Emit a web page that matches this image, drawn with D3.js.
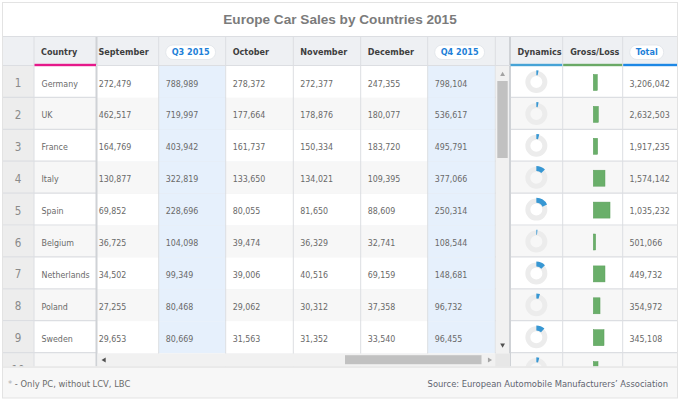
<!DOCTYPE html>
<html>
<head>
<meta charset="utf-8">
<script src="https://cdn.jsdelivr.net/npm/d3@7"></script>
<style>
  html, body { margin: 0; padding: 0; background: #fff; }
  svg { display: block; }
</style>
</head>
<body>
<div id="chart"></div>
<script>
const countries = ["Germany", "UK", "France", "Italy", "Spain", "Belgium", "Netherlands", "Poland", "Sweden", "Switzerland"];
const september = [272479, 462517, 164769, 130877, 69852, 36725, 34502, 27255, 29653];
const q3 = [788989, 719997, 403942, 322819, 228696, 104098, 99349, 80468, 80669];
const october = [278372, 177664, 161737, 133650, 80055, 39474, 39006, 29062, 31563];
const november = [272377, 178876, 150334, 134021, 81650, 36329, 40516, 30312, 31352];
const december = [247355, 180077, 183720, 109395, 88609, 32741, 69159, 37358, 33540];
const q4 = [798104, 536617, 495791, 377066, 250314, 108544, 148681, 96732, 96455];
const totals = [3206042, 2632503, 1917235, 1574142, 1035232, 501066, 449732, 354972, 345108, 323783];
const dynamics = [0.03, 0.03, 0.04, 0.13, 0.18, 0.015, 0.13, 0.05, 0.12, 0.04]; // share of the ring
const grossLoss = [5, 6.3, 5.4, 14.6, 20.9, 2.9, 14.6, 8.4, 13.4, 5.9];
const headerLabels = ["Country", "September", "Q3 2015", "October", "November", "December", "Q4 2015", "Dynamics", "Gross/Loss", "Total"];

const W = 680, H = 401;
const fmt = d3.format(",");
const bodyFont = "'DejaVu Sans Condensed', 'DejaVu Sans', sans-serif";

// column layout (left edge, right edge)
const cols = {
  num: [2, 34], country: [34, 96.5], sep: [96.5, 158.7], q3: [158.7, 225.7],
  oct: [225.7, 293.3], nov: [293.3, 360.7], dec: [360.7, 427.7], q4: [427.7, 495.3],
  vs: [495.3, 510], dyn: [510, 562.7], gross: [562.7, 622.7], total: [622.7, 678]
};
const headTop = 36, headBottom = 66, rowH = 31.9, hsTop = 353.5, footTop = 366.5, footBottom = 398;

const y = d3.scaleBand().domain(d3.range(countries.length))
  .range([headBottom, headBottom + rowH * countries.length]);

const svg = d3.select("#chart").append("svg")
  .attr("width", W).attr("height", H)
  .style("font-family", bodyFont);

svg.append("rect").attr("width", W).attr("height", H).attr("fill", "#fff");

const defs = svg.append("defs");
defs.append("clipPath").attr("id", "clipFixed")
  .append("rect").attr("x", 0).attr("y", headBottom).attr("width", W).attr("height", footTop - headBottom);
defs.append("clipPath").attr("id", "clipScroll")
  .append("rect").attr("x", cols.sep[0]).attr("y", headBottom)
  .attr("width", cols.q4[1] - cols.sep[0]).attr("height", hsTop - headBottom);

// title
svg.append("text")
  .attr("x", W / 2).attr("y", 24)
  .attr("text-anchor", "middle")
  .style("font-family", "'Liberation Sans', Arial, sans-serif")
  .style("font-size", "13.6px").style("font-weight", "bold")
  .style("fill", "#7b7b7b")
  .text("Europe Car Sales by Countries 2015");

// header background
svg.append("rect").attr("x", 2).attr("y", headTop).attr("width", 676).attr("height", headBottom - headTop)
  .attr("fill", "#eef0f3");

// body cells
const scrollCols = [
  { key: "sep", values: september, bg: null },
  { key: "q3", values: q3, bg: "#e6f0fc" },
  { key: "oct", values: october, bg: null },
  { key: "nov", values: november, bg: null },
  { key: "dec", values: december, bg: null },
  { key: "q4", values: q4, bg: "#e6f0fc" }
];
const rowBg = (i) => (i % 2 === 0 ? "#ffffff" : "#f7f7f7");

const fixedG = svg.append("g").attr("clip-path", "url(#clipFixed)");
const scrollG = svg.append("g").attr("clip-path", "url(#clipScroll)");

// fixed left / right column backgrounds
countries.forEach((c, i) => {
  fixedG.append("rect").attr("x", cols.num[0]).attr("y", y(i)).attr("width", cols.num[1] - cols.num[0])
    .attr("height", rowH).attr("fill", "#ededed");
  [cols.country, cols.dyn, cols.gross, cols.total].forEach((cc) => {
    fixedG.append("rect").attr("x", cc[0]).attr("y", y(i)).attr("width", cc[1] - cc[0])
      .attr("height", rowH).attr("fill", rowBg(i));
  });
});

// scroll area backgrounds
scrollCols.forEach((sc) => {
  sc.values.forEach((v, i) => {
    scrollG.append("rect").attr("x", cols[sc.key][0]).attr("y", y(i))
      .attr("width", cols[sc.key][1] - cols[sc.key][0]).attr("height", rowH)
      .attr("fill", sc.bg || rowBg(i));
  });
});

// grid lines
const gridColor = "#dcdee2";
countries.forEach((c, i) => {
  fixedG.append("line").attr("x1", 2).attr("x2", 678).attr("y1", y(i) + rowH - 0.5).attr("y2", y(i) + rowH - 0.5)
    .attr("stroke", gridColor).attr("stroke-width", 1.2);
});
[cols.country[0], cols.q3[0], cols.oct[0], cols.nov[0], cols.dec[0], cols.q4[0], cols.q4[1],
 cols.gross[0], cols.total[0]].forEach((x) => {
  svg.append("line").attr("x1", x).attr("x2", x).attr("y1", headTop).attr("y2", footTop)
    .attr("stroke", gridColor).attr("stroke-width", 1);
});
// fixed-column borders
[cols.sep[0], cols.dyn[0]].forEach((x) => {
  svg.append("line").attr("x1", x).attr("x2", x).attr("y1", headTop).attr("y2", footTop)
    .attr("stroke", "#cfd2d6").attr("stroke-width", 2);
});
svg.append("line").attr("x1", 2).attr("x2", 678).attr("y1", headTop + 0.5).attr("y2", headTop + 0.5)
  .attr("stroke", gridColor);
svg.append("line").attr("x1", 2).attr("x2", 678).attr("y1", headBottom - 0.5).attr("y2", headBottom - 0.5)
  .attr("stroke", gridColor);

// header labels
const headerKeys = ["country", "sep", "q3", "oct", "nov", "dec", "q4", "dyn", "gross", "total"];
const pills = ["q3", "q4", "total"];
headerKeys.forEach((k, j) => {
  const label = headerLabels[j];
  let x = cols[k][0] + 7;
  if (k === "sep") x = cols[k][0] + 2;
  if (k === "dyn") x = cols[k][0] + 7.5;
  if (k === "gross") x = cols[k][0] + 7.5;
  if (pills.includes(k)) {
    const t = svg.append("text").attr("x", x + 6).attr("y", 54.5)
      .style("font-size", "9px").style("font-weight", "bold").style("fill", "#1e7fd8").text(label);
    const w = t.node().getComputedTextLength();
    svg.insert("rect", () => t.node())
      .attr("x", x).attr("y", 45).attr("width", w + 12).attr("height", 14.5)
      .attr("rx", 7.25).attr("fill", "#fff").attr("stroke", "#dfe3e8").attr("stroke-width", 0.8);
  } else {
    svg.append("text").attr("x", x).attr("y", 54.5)
      .style("font-size", "9px").style("font-weight", "bold").style("fill", "#3e3e3e").text(label);
  }
});

// header underlines
const underlines = [
  { key: "country", color: "#e5198a" },
  { key: "dyn", color: "#46a3d6" },
  { key: "gross", color: "#6aa966" },
  { key: "total", color: "#1e88e5" }
];
underlines.forEach((u) => {
  svg.append("rect").attr("x", cols[u.key][0] + 0.5).attr("y", headBottom - 2.2)
    .attr("width", cols[u.key][1] - cols[u.key][0] - 1).attr("height", 2.4).attr("fill", u.color);
});

// fixed cells content
countries.forEach((c, i) => {
  const ty = y(i) + 20.5;
  fixedG.append("text").attr("x", (cols.num[0] + cols.num[1]) / 2).attr("y", ty + 0.5)
    .attr("text-anchor", "middle").style("font-size", "11.5px").style("fill", "#8a8a8a").text(i + 1);
  fixedG.append("text").attr("x", cols.country[0] + 7.5).attr("y", ty)
    .style("font-size", "8.8px").style("fill", "#6a6a6a").text(c);
  fixedG.append("text").attr("x", cols.total[0] + 6.8).attr("y", ty)
    .style("font-size", "8.8px").style("fill", "#6a6a6a").text(fmt(totals[i]));
});

// scroll area cell values
scrollCols.forEach((sc) => {
  sc.values.forEach((v, i) => {
    scrollG.append("text")
      .attr("x", cols[sc.key][0] + (sc.key === "sep" ? 2.2 : 7))
      .attr("y", y(i) + 20.5)
      .style("font-size", "8.8px").style("fill", "#6a6a6a").text(fmt(v));
  });
});

// dynamics donuts
const ringArc = d3.arc().innerRadius(6).outerRadius(11).startAngle(0).endAngle(2 * Math.PI);
const dynArc = d3.arc().innerRadius(6.8).outerRadius(11.8).startAngle(0);
const dynCx = (cols.dyn[0] + cols.dyn[1]) / 2;
dynamics.forEach((d, i) => {
  const g = fixedG.append("g").attr("transform", `translate(${dynCx},${y(i) + 16})`);
  g.append("path").attr("d", ringArc()).attr("fill", "#ececec");
  g.append("path").attr("d", dynArc({ endAngle: d * 2 * Math.PI })).attr("fill", "#3797d3");
});

// gross/loss bars
const barX = d3.scaleLinear().domain([0, 25]).range([0, 20]);
const barStart = 593.3;
grossLoss.forEach((v, i) => {
  fixedG.append("rect").attr("x", barStart).attr("y", y(i) + 8.5)
    .attr("width", barX(v)).attr("height", 16)
    .attr("fill", "#6aaf6a").attr("stroke", "#5b9e5b").attr("stroke-width", 0.5);
});

// vertical scrollbar
svg.append("rect").attr("x", cols.vs[0] + 0.5).attr("y", headBottom).attr("width", cols.vs[1] - cols.vs[0] - 1.5)
  .attr("height", hsTop - headBottom).attr("fill", "#f1f1f1");
svg.append("rect").attr("x", 497.3).attr("y", 81).attr("width", 10.4).attr("height", 77).attr("fill", "#c1c1c1");
svg.append("path").attr("d", d3.symbol(d3.symbolTriangle, 10)()).attr("transform", "translate(502.6,74.5)")
  .attr("fill", "#a3a3a3");
svg.append("path").attr("d", d3.symbol(d3.symbolTriangle, 10)()).attr("transform", "translate(502.6,345) rotate(180)")
  .attr("fill", "#505050");

// horizontal scrollbar
svg.append("rect").attr("x", cols.sep[0] + 1).attr("y", hsTop).attr("width", cols.vs[1] - cols.sep[0] - 1)
  .attr("height", footTop - hsTop).attr("fill", "#f1f1f1");
svg.append("rect").attr("x", cols.vs[0]).attr("y", hsTop).attr("width", cols.vs[1] - cols.vs[0])
  .attr("height", footTop - hsTop).attr("fill", "#e7e7e7");
svg.append("rect").attr("x", 345).attr("y", 355.2).attr("width", 136.5).attr("height", 9).attr("fill", "#c1c1c1");
svg.append("path").attr("d", d3.symbol(d3.symbolTriangle, 10)()).attr("transform", "translate(104.3,360) rotate(-90)")
  .attr("fill", "#505050");
svg.append("path").attr("d", d3.symbol(d3.symbolTriangle, 10)()).attr("transform", "translate(489.3,360) rotate(90)")
  .attr("fill", "#a3a3a3");

// footer
svg.append("rect").attr("x", 2).attr("y", footTop).attr("width", 676).attr("height", footBottom - footTop)
  .attr("fill", "#f7f7f7");
svg.append("line").attr("x1", 2).attr("x2", 678).attr("y1", footTop + 0.5).attr("y2", footTop + 0.5)
  .attr("stroke", "#dcdcdc");
const note = svg.append("text").attr("x", 8).attr("y", 386.5).style("font-size", "9.3px").style("fill", "#6a6a6a");
note.append("tspan").style("fill", "#b0b0b0").text("*");
note.append("tspan").text(" - Only PC, without LCV, LBC");
svg.append("text").attr("x", 668).attr("y", 386.5).attr("text-anchor", "end")
  .style("font-size", "9.3px").style("fill", "#5f6470")
  .text("Source: European Automobile Manufacturers\u2019 Association");

// outer frame
svg.append("rect").attr("x", 2.5).attr("y", 2.5).attr("width", 675).attr("height", footBottom - 2.5)
  .attr("fill", "none").attr("stroke", "#e3e3e3");
</script>
</body>
</html>
